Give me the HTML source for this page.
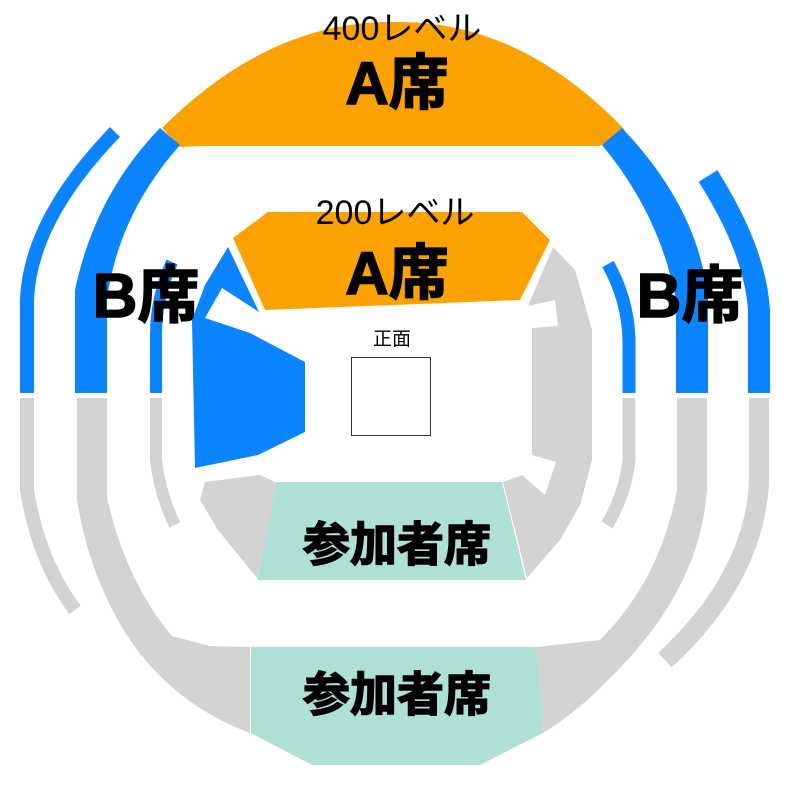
<!DOCTYPE html>
<html><head><meta charset="utf-8"><style>
body{margin:0;background:#fff;width:787px;height:792px;overflow:hidden}
svg text{font-family:"Liberation Sans","Noto Sans CJK JP",sans-serif}
</style></head><body>
<svg width="787" height="792" viewBox="0 0 787 792" xmlns="http://www.w3.org/2000/svg">
<path d="M162,128 Q270,20 395,22 Q520,20 625,130 L600,146 L200,146 L180,147 Z" fill="#FBA200"/>
<path d="M115,132 Q30,220 27,300 L27,393" stroke="#0A84FF" stroke-width="14" fill="none"/>
<path d="M27,398 L27,490 Q38,560 75,610" stroke="#D3D3D3" stroke-width="14" fill="none"/>
<path d="M160,128 L180,145 Q118,215 107,300 L107,393 L75,393 L75,290 Q95,195 160,128Z" fill="#0A84FF"/>
<path d="M77,398 L107,398 L107,497 Q125,580 172,636 L210,646 L250,647 L250,733 Q175,705 130,640 Q90,580 77,500Z" fill="#D3D3D3"/>
<path d="M172,262 Q155,300 156,340 L156,393" stroke="#0A84FF" stroke-width="12" fill="none"/>
<path d="M156,398 L156,460 Q160,495 175,525" stroke="#D3D3D3" stroke-width="12" fill="none"/>
<path d="M708,176 Q755,250 759,310 L759,393" stroke="#0A84FF" stroke-width="22" fill="none"/>
<path d="M759,398 L759,485 Q752,580 665,660" stroke="#D3D3D3" stroke-width="20" fill="none"/>
<path d="M602,145 L622,128 Q700,210 708,300 L708,393 L676,393 L676,300 Q660,215 602,145Z" fill="#0A84FF"/>
<path d="M677,398 L707,398 L707,490 Q700,590 610,678 Q580,710 543,733 L537,647 L600,640 Q660,580 677,490Z" fill="#D3D3D3"/>
<path d="M608,264 Q628,300 629,340 L629,393" stroke="#0A84FF" stroke-width="13" fill="none"/>
<path d="M629,398 L629,460 Q625,495 607,525" stroke="#D3D3D3" stroke-width="13" fill="none"/>
<path d="M251,647 L537,647 L543,733 L480,765 L312,765 L251,733Z" fill="#AEE0D6"/>
<path d="M276,482 L502,482 L526,580 L257,580Z" fill="#AEE0D6"/>
<path d="M233,238 L268,212 L522,212 L550,240 L520,300 L265,310Z" fill="#FBA200"/>
<path d="M228,247 L259,312 L222,288 L205,318 L250,333 L305,362 L305,432 L258,455 L195,468 L192,320 L205,285Z" fill="#0A84FF"/>
<path d="M205,482 L260,475 L277,483 L257,578 L218,530 L200,500Z" fill="#D3D3D3"/>
<path d="M553,247 L575,270 L592,330 L592,460 L580,505 L560,540 L527,578 L503,482 L522,475 L545,495 L556,462 L532,455 L532,328 L558,326 L555,300 L528,306Z" fill="#D3D3D3"/>
<rect x="351.5" y="357.5" width="79" height="78" fill="#fff" stroke="#333" stroke-width="1"/>
<text x="392" y="345" font-size="19" text-anchor="middle">正面</text>
<text x="402" y="40" font-size="34" text-anchor="middle">400レベル</text>
<text x="397" y="104" font-size="60" font-weight="bold" text-anchor="middle" stroke="#000" stroke-width="1.5">A席</text>
<text x="395" y="224" font-size="34" text-anchor="middle">200レベル</text>
<text x="397" y="294" font-size="60" font-weight="bold" text-anchor="middle" stroke="#000" stroke-width="1.5">A席</text>
<text x="146" y="317" font-size="62" font-weight="bold" text-anchor="middle" stroke="#000" stroke-width="1.5">B席</text>
<text x="690" y="317" font-size="62" font-weight="bold" text-anchor="middle" stroke="#000" stroke-width="1.5">B席</text>
<text x="397" y="561" font-size="47" font-weight="bold" text-anchor="middle" stroke="#000" stroke-width="1.5">参加者席</text>
<text x="397" y="711" font-size="47" font-weight="bold" text-anchor="middle" stroke="#000" stroke-width="1.5">参加者席</text>
</svg>
</body></html>
